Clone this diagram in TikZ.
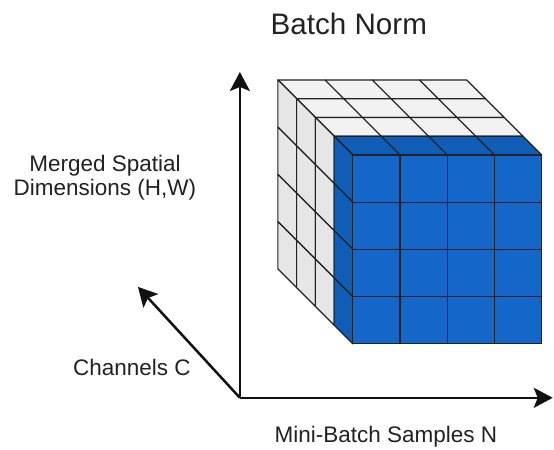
\documentclass[tikz,border=0pt]{standalone}
\usepackage{fontspec}
\setmainfont{Liberation Sans}
\usetikzlibrary{arrows.meta}
\definecolor{cellblue}{HTML}{1467C8}
\definecolor{cellbluedark}{HTML}{0F5DB6}
\definecolor{celltop}{HTML}{F2F2F2}
\definecolor{cellside}{HTML}{E6E6E6}
\definecolor{gridline}{HTML}{222222}
\definecolor{axisblack}{HTML}{111111}
\definecolor{textdark}{HTML}{222222}
\tikzset{
  axis/.style={-{Stealth[length=19pt, width=20pt, inset=4pt]}, draw=axisblack, line width=2.5pt},
  cell/.style={draw=gridline, line width=1.2pt, line join=round},
  lbl/.style={font=\fontsize{22.5}{24}\selectfont, text=textdark, align=center, inner sep=0pt},
  ttl/.style={font=\fontsize{29.6}{32}\selectfont, text=textdark, inner sep=0pt},
}
\newcommand{\CellSize}{47.25}
\newcommand{\Depth}{18.75}

\begin{document}
\begin{tikzpicture}[x=1pt, y=-1pt]

\fill[white] (0,0) rectangle (554,450);

% cube, back slab first
\foreach \k/\topcol/\sidecol in {0/celltop/cellside, 1/celltop/cellside, 2/celltop/cellside, 3/cellbluedark/cellbluedark} {
  \foreach \i in {0,...,3} {
    \filldraw[cell, fill=\topcol] ({278+\k*\Depth+\i*\CellSize},{80+\k*\Depth}) -- ++(\CellSize,0) -- ++(\Depth,\Depth) -- ++(-\CellSize,0) -- cycle;
    \filldraw[cell, fill=\sidecol] ({278+\k*\Depth},{80+\k*\Depth+\i*\CellSize}) -- ++(\Depth,\Depth) -- ++(0,\CellSize) -- ++(-\Depth,-\Depth) -- cycle;
  }
}
\foreach \i in {0,...,3} {
  \foreach \j in {0,...,3} {
    \filldraw[cell, fill=cellblue] ({353+\i*\CellSize},{155+\j*\CellSize}) rectangle ++(\CellSize,\CellSize);
  }
}

% axes
\coordinate (O) at (240,398);
\coordinate (Htip) at (240,72);
\coordinate (Ntip) at (553,398);
\coordinate (Ctip) at (138,287);
\draw[axis] (O) -- (Htip);
\draw[axis] (O) -- (Ntip);
\draw[axis] (O) -- (Ctip);

\node[ttl] (title) at (349,24) {Batch Norm};
\node[lbl] (hwlabel) at (105,178) {Merged Spatial\\Dimensions (H,W)};
\node[lbl] (clabel) at (132,368) {Channels C};
\node[lbl] (nlabel) at (386,437) {Mini-Batch Samples N};

\end{tikzpicture}
\end{document}
